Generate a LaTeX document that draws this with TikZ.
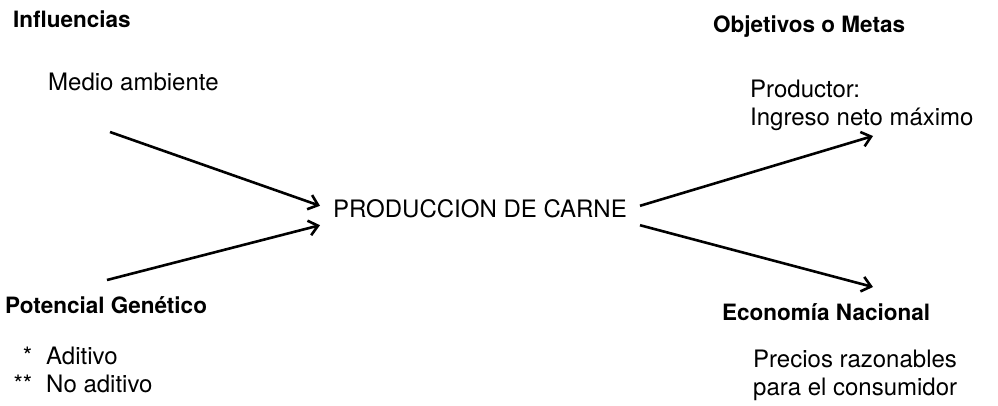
\documentclass[tikz,border=0pt]{standalone}
\usepackage{fontspec}
\setmainfont{TeX Gyre Heros}
\usetikzlibrary{arrows.meta, positioning}
\tikzstyle{heading} = [inner sep=0pt, anchor=base west, font=\fontsize{22.5}{27}\selectfont\bfseries]
\tikzstyle{subtext} = [inner sep=0pt, anchor=base west, align=left, font=\fontsize{24}{28}\selectfont]
\tikzstyle{mainbox} = [inner xsep=13pt, inner ysep=0pt, text height=11pt, text depth=8pt, anchor=base west, font=\fontsize{24}{28}\selectfont]
\tikzstyle{arrow} = [line width=2.6pt, ->, >={Straight Barb[length=9pt, width=15pt]}]
\begin{document}
\begin{tikzpicture}[x=1pt, y=-1pt]
\useasboundingbox (0,0) rectangle (998,405);

\node (prod) [mainbox] at (320,217) {PRODUCCION DE CARNE};

\node (infl) [heading] at (13,27) {Influencias};
\node (medio) [below right=63pt and 35pt of infl.base west, subtext] {Medio ambiente};
\node (pot) [heading] at (5,313) {Potencial Genético};
\node (tipos) [below right=79pt and 41pt of pot.base west, subtext] {\llap{*\hspace{14pt}}Aditivo\\\llap{**\hspace{14pt}}No aditivo};

\node (obj) [heading] at (713,32) {Objetivos o Metas};
\node (prodr) [below right=93pt and 37pt of obj.base west, subtext] {Productor:\\Ingreso neto máximo};
\node (econ) [heading] at (722,320) {Economía Nacional};
\node (precios) [below right=75pt and 31pt of econ.base west, subtext] {Precios razonables\\para el consumidor};

\coordinate (inA) at (110,132);
\coordinate (inB) at (107,280);
\coordinate (outA) at (873,136);
\coordinate (outB) at (873,287);

% Arrows
\draw [arrow] (inA) -- (prod.north west);
\draw [arrow] (inB) -- (prod.south west);
\draw [arrow] (prod.north east) -- (outA);
\draw [arrow] (prod.south east) -- (outB);

\end{tikzpicture}
\end{document}
